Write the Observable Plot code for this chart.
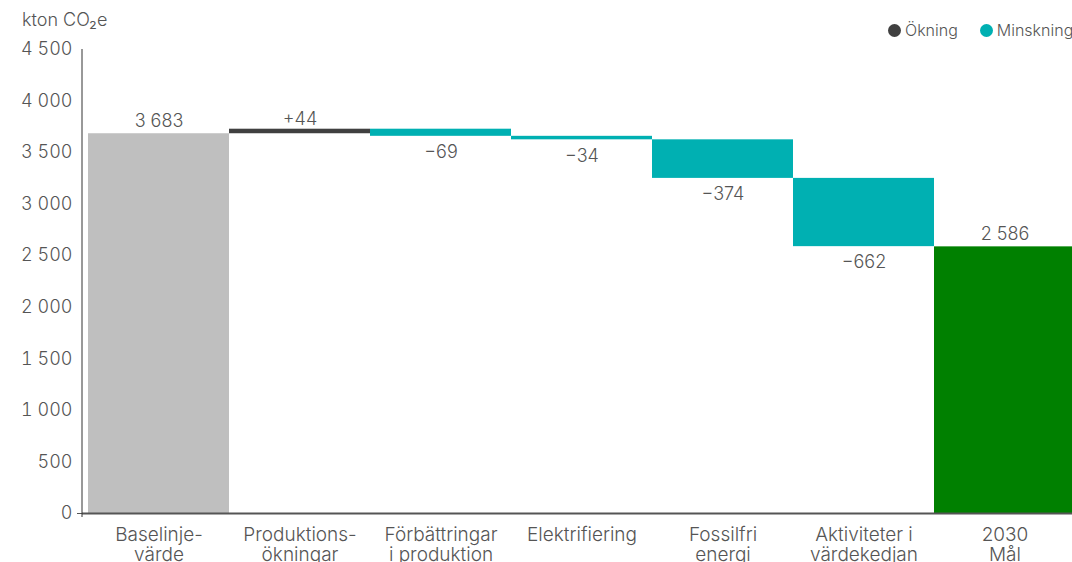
<!DOCTYPE html>
<html>
<head>
<meta charset="utf-8">
<script src="https://cdn.jsdelivr.net/npm/d3@7"></script>
<script src="https://cdn.jsdelivr.net/npm/@observablehq/plot@0.6"></script>
<style>
  html, body { margin: 0; padding: 0; background: #fff; overflow: hidden; }
  #wrap { position: relative; width: 1072px; height: 562px; font-family: Inter, "Liberation Sans", Arial, sans-serif; font-weight: 300; }
  #title { position: absolute; left: 22px; top: 9px; font-size: 18px; color: #555; }
  #legend { position: absolute; left: 888px; top: 20px; font-size: 16px; color: #555; display: flex; gap: 22px; white-space: nowrap; }
  #legend .item { display: flex; align-items: center; gap: 4px; }
  #legend .dot { width: 13px; height: 13px; border-radius: 50%; display: inline-block; }
  svg text { font-weight: 300; }
</style>
</head>
<body>
<div id="wrap">
  <div id="chart"></div>
  <div id="title">kton CO₂e</div>
  <div id="legend"></div>
</div>
<script>
const categories = ["Baselinje-\nvärde", "Produktions-\nökningar", "Förbättringar\ni produktion", "Elektrifiering", "Fossilfri\nenergi", "Aktiviteter i\nvärdekedjan", "2030\nMål"];
const values = [3683, 44, -69, -34, -374, -662, 2586];
const kinds = ["baseline", "increase", "decrease", "decrease", "decrease", "decrease", "target"];
const valueLabels = ["3 683", "+44", "−69", "−34", "−374", "−662", "2 586"];
const yTicks = [0, 500, 1000, 1500, 2000, 2500, 3000, 3500, 4000, 4500];
const legendNames = ["Ökning", "Minskning"];

const colors = {baseline: "#bfbfbf", increase: "#404040", decrease: "#00b0b2", target: "#008000"};

// build waterfall table
let run = 0;
const rows = categories.map((c, i) => {
  const k = kinds[i];
  let y1, y2;
  if (k === "baseline" || k === "target") { y1 = 0; y2 = values[i]; run = values[i]; }
  else { y1 = run; y2 = run + values[i]; run = y2; }
  const up = values[i] >= 0;
  return {cat: c, y1, y2, kind: k, label: valueLabels[i],
          ly: up ? Math.max(y1, y2) : Math.min(y1, y2)};
});
const totals = rows.filter(d => d.kind === "baseline" || d.kind === "target");
const ups = rows.filter(d => d.kind === "increase");
const downs = rows.filter(d => d.kind === "decrease");

const fmt = d => d3.format(",")(d).replace(/,/g, " ");
const font = 'Inter, "Liberation Sans", Arial, sans-serif';
const textOpts = {x: "cat", y: "ly", text: "label", fill: "#555", fontSize: 18, lineAnchor: "middle"};

const chart = Plot.plot({
  width: 1072,
  height: 562,
  marginTop: 49,
  marginBottom: 49,
  marginLeft: 82,
  marginRight: -8,
  style: {fontFamily: font, fontSize: "18px", color: "#555", background: "transparent"},
  x: {domain: categories, padding: 0, paddingOuter: 0.0354, label: null},
  y: {domain: [0, 4500], label: null},
  marks: [
    Plot.barY(rows, {x: "cat", y1: "y1", y2: "y2", fill: d => colors[d.kind], inset: 0}),
    Plot.ruleY([0], {stroke: "#555", strokeWidth: 2}),
    Plot.axisY({ticks: yTicks, tickFormat: fmt, tickSize: 0, tickPadding: 10, fill: "#555", fontSize: 18, label: null}),
    Plot.axisY({ticks: [0], tickFormat: () => "", tickSize: 5, stroke: "#555", label: null}),
    Plot.axisX({tickSize: 0, tickPadding: 14, lineHeight: 1.02, fill: "#555", fontSize: 19, label: null}),
    Plot.text(totals, {...textOpts, dy: -13}),
    Plot.text(ups, {...textOpts, dy: -10}),
    Plot.text(downs, {...textOpts, dy: 16})
  ]
});

document.getElementById("chart").appendChild(chart);

// y-axis line drawn from the plot's own scales
const ys = chart.scale("y"), xs = chart.scale("x");
const yScale = Plot.scale({y: {domain: ys.domain, range: ys.range}});
const x0 = xs.range[0];
d3.select(chart).append("line")
  .attr("x1", x0).attr("x2", x0)
  .attr("y1", yScale.apply(4500)).attr("y2", yScale.apply(0) + 4)
  .attr("stroke", "#333").attr("stroke-width", 1);

// legend
const leg = d3.select("#legend");
[["increase", legendNames[0]], ["decrease", legendNames[1]]].forEach(([k, n]) => {
  const it = leg.append("div").attr("class", "item");
  it.append("span").attr("class", "dot").style("background", colors[k]);
  it.append("span").text(n);
});
</script>
</body>
</html>
